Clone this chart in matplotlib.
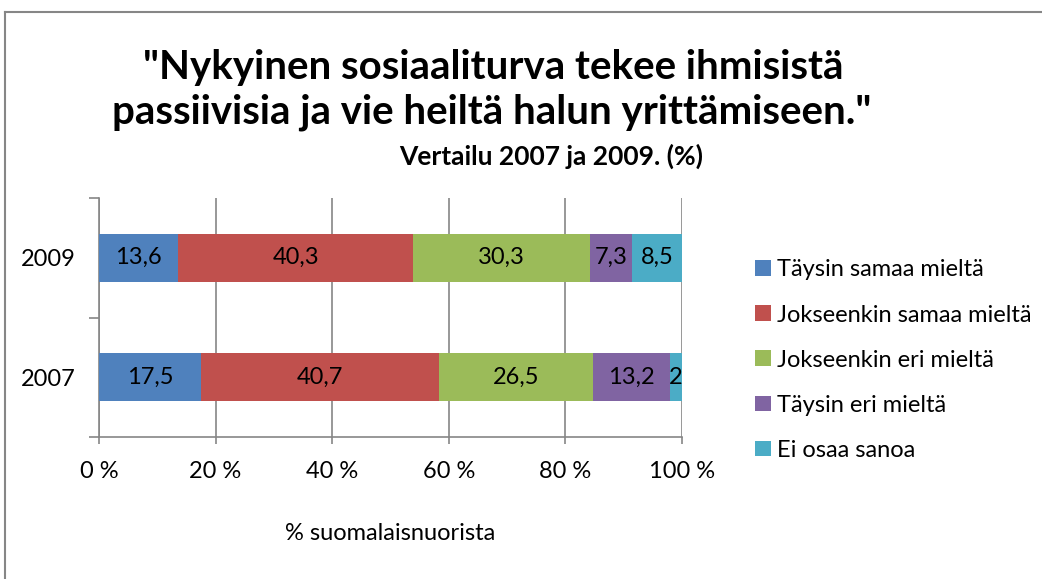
import matplotlib.pyplot as plt
from matplotlib.lines import Line2D

# data from the chart
years = ['2007', '2009']
series = ['Täysin samaa mieltä', 'Jokseenkin samaa mieltä', 'Jokseenkin eri mieltä',
          'Täysin eri mieltä', 'Ei osaa sanoa']
values_2007 = [17.5, 40.7, 26.5, 13.2, 2]
values_2009 = [13.6, 40.3, 30.3, 7.3, 8.5]
colors = ['#4F81BD', '#C0504D', '#9BBB59', '#8064A2', '#4BACC6']
xticks = [0, 20, 40, 60, 80, 100]

plt.rcParams['font.family'] = ['Lato', 'DejaVu Sans']

fig = plt.figure(figsize=(10.42, 5.79), dpi=100)
ax = fig.add_axes([99 / 1042, 142 / 579, 583 / 1042, 239 / 579])

rows = [values_2007, values_2009]
# 100% stacked: normalise each row
left = [0.0, 0.0]
for i, name in enumerate(series):
    widths = []
    for r, row in enumerate(rows):
        widths.append(row[i] / sum(row) * 100)
    bars = ax.barh([0, 1], widths, left=left, height=0.4, color=colors[i], label=name, zorder=3)
    for r, b in enumerate(bars):
        txt = ('%g' % rows[r][i]).replace('.', ',')
        ax.text(b.get_x() + b.get_width() / 2, b.get_y() + b.get_height() / 2, txt,
                ha='center', va='center', fontsize=17, color='black', zorder=4)
    left = [left[k] + widths[k] for k in range(2)]

ax.set_xlim(0, 100)
ax.set_ylim(-0.5, 1.5)
ax.set_xticks(xticks)
ax.set_xticklabels(['%d %%' % t for t in xticks], fontsize=17)
ax.set_yticks([0, 1])
ax.set_yticklabels(years, fontsize=17)
ax.set_yticks([-0.5, 0.5, 1.5], minor=True)
ax.tick_params(axis='y', which='major', length=0, pad=17)
ax.tick_params(axis='y', which='minor', length=7, color='#868686', width=1.2)
ax.tick_params(axis='x', length=5, color='#868686', width=1.2, pad=12)
ax.grid(axis='x', color='#868686', linewidth=1.2, zorder=0)
for s in ['top', 'right']:
    ax.spines[s].set_visible(False)
for s in ['left', 'bottom']:
    ax.spines[s].set_color('#868686')
    ax.spines[s].set_linewidth(1.2)

ax.set_xlabel('% suomalaisnuorista', fontsize=17, labelpad=30)

# legend
leg = ax.legend(loc='upper left', bbox_to_anchor=(746 / 1042, 1 - 250 / 579),
                bbox_transform=fig.transFigure, frameon=False, fontsize=17,
                handlelength=0.65, handleheight=0.65, handletextpad=0.25, labelspacing=1.02,
                borderaxespad=0)

# titles
fig.text(493 / 1042, 1 - 68 / 579, '"Nykyinen sosiaaliturva tekee ihmisistä',
         ha='center', va='center', fontsize=29, fontweight='bold')
fig.text(492 / 1042, 1 - 112 / 579, 'passiivisia ja vie heiltä halun yrittämiseen."',
         ha='center', va='center', fontsize=29, fontweight='bold')
fig.text(551 / 1042, 1 - 156 / 579, 'Vertailu 2007 ja 2009. (%)',
         ha='center', va='center', fontsize=19, fontweight='bold')

# chart area border (cut off at right and bottom)
fig.add_artist(Line2D([5 / 1042, 5 / 1042], [0, 1 - 12 / 579], transform=fig.transFigure,
                      color='#868686', linewidth=1.5))
fig.add_artist(Line2D([5 / 1042, 1], [1 - 12 / 579, 1 - 12 / 579], transform=fig.transFigure,
                      color='#868686', linewidth=1.5))

fig.savefig('out.png', dpi=100)
